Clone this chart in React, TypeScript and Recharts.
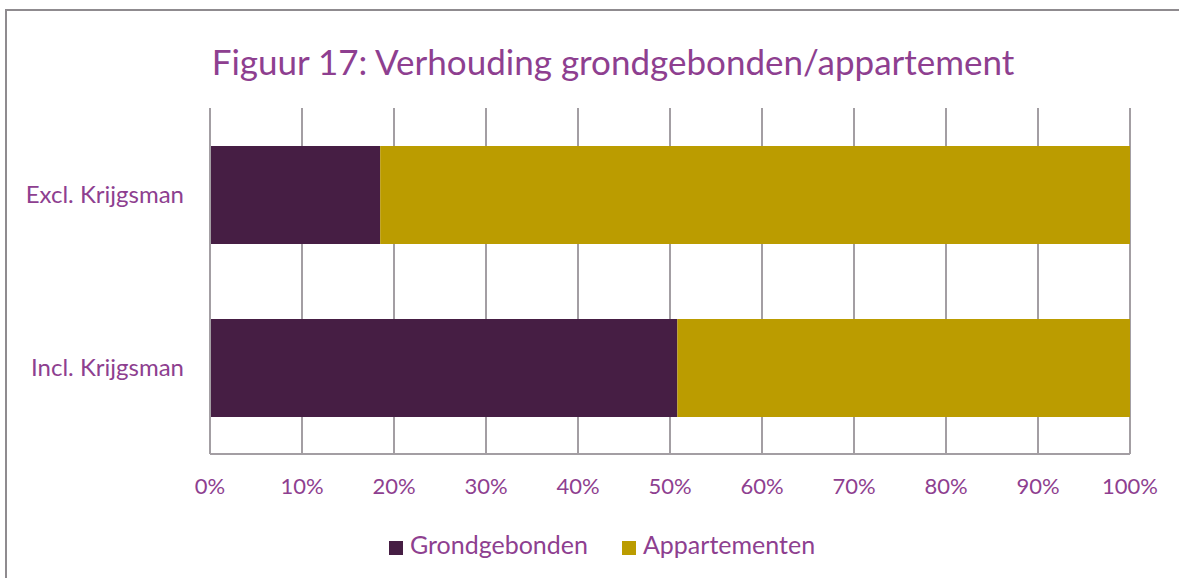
import React from "react";
import {
  BarChart,
  Bar,
  XAxis,
  YAxis,
  CartesianGrid,
  Legend,
} from "recharts";

const categories = ["Excl. Krijgsman", "Incl. Krijgsman"];
const grondgebonden = [0.185, 0.508];
const appartementen = [0.815, 0.492];
const xTicks = [0, 0.1, 0.2, 0.3, 0.4, 0.5, 0.6, 0.7, 0.8, 0.9, 1];
const seriesOrder = ["Grondgebonden", "Appartementen"];

const PURPLE_TEXT = "#8E3F90";
const GRID = "#A39EA3";
const FONT = "Lato, 'Open Sans', sans-serif";

const data = categories.map((name, i) => ({
  name,
  grond: grondgebonden[i],
  app: appartementen[i],
}));

const App: React.FC = () => {
  return (
    <div
      style={{
        position: "absolute",
        left: 0,
        top: 0,
        width: 1179,
        height: 578,
        background: "#fff",
        overflow: "hidden",
        fontFamily: FONT,
      }}
    >
      <div
        style={{
          position: "absolute",
          left: 5,
          top: 9,
          width: 1300,
          height: 700,
          borderLeft: "2px solid #8F8B8F",
          borderTop: "2px solid #8F8B8F",
        }}
      />
      <div
        style={{
          position: "absolute",
          left: 0,
          width: 1226,
          top: 40,
          textAlign: "center",
          color: PURPLE_TEXT,
          fontSize: 35,
          lineHeight: "42px",
        }}
      >
        Figuur 17: Verhouding grondgebonden/appartement
      </div>
      <div style={{ position: "absolute", left: 0, top: 0 }}>
        <BarChart
          width={1179}
          height={578}
          data={data}
          layout="vertical"
          margin={{ top: 108, right: 49, left: 0, bottom: 19 }}
        >
          <CartesianGrid horizontal={false} stroke={GRID} strokeWidth={2} />
          <XAxis
            type="number"
            domain={[0, 1]}
            ticks={xTicks}
            tickFormatter={(v: number) => `${Math.round(v * 100)}%`}
            axisLine={{ stroke: GRID, strokeWidth: 2 }}
            tickLine={false}
            tickMargin={18}
            height={75}
            tick={{ fill: PURPLE_TEXT, fontSize: 22, fontFamily: FONT }}
          />
          <YAxis
            type="category"
            dataKey="name"
            width={210}
            axisLine={{ stroke: GRID, strokeWidth: 2 }}
            tickLine={false}
            tickMargin={20}
            tick={{ fill: PURPLE_TEXT, fontSize: 24, fontFamily: FONT }}
          />
          <Legend
            verticalAlign="bottom"
            align="center"
            iconType="square"
            iconSize={14}
            itemSorter={(item: any) => seriesOrder.indexOf(item.value)}
            wrapperStyle={{ fontSize: 25, fontFamily: FONT, left: 0, width: 1214 }}
            formatter={(value: string) => (
              <span
                style={{
                  color: PURPLE_TEXT,
                  paddingLeft: 3,
                  paddingRight: value === seriesOrder[0] ? 24 : 0,
                }}
              >
                {value}
              </span>
            )}
          />
          <Bar
            dataKey="grond"
            name="Grondgebonden"
            stackId="a"
            fill="#461E44"
            barSize={98}
            isAnimationActive={false}
          />
          <Bar
            dataKey="app"
            name="Appartementen"
            stackId="a"
            fill="#BB9C00"
            barSize={98}
            isAnimationActive={false}
          />
        </BarChart>
      </div>
    </div>
  );
};

export default App;
